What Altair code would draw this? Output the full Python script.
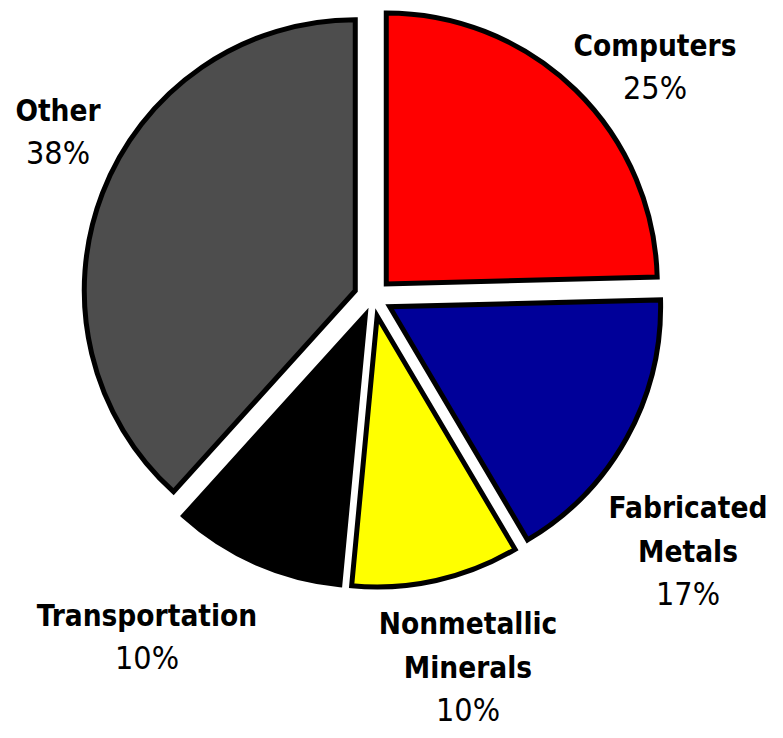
import altair as alt
import pandas as pd

# ---- data ----
categories = ["Computers", "Fabricated Metals", "Nonmetallic Minerals", "Transportation", "Other"]
name_lines = ["Computers", "Fabricated\nMetals", "Nonmetallic\nMinerals", "Transportation", "Other"]
shares = [24.6, 16.9, 10.0, 10.2, 38.3]
colors = ["#FF0000", "#000099", "#FFFF00", "#000000", "#4D4D4D"]

# ---- layout (pixels inside the plot area) ----
W, H = 767, 722
CX, CY = 365, 289.5      # pie centre
R = 271                  # pie radius
EXPLODE = 19             # explosion distance
FS_NAME = 29.5           # font size of category names
FS_PCT = 32              # font size of percentages
LH = 44                  # line height
FONT = "DejaVu Sans Condensed, Liberation Sans Narrow, Arial Narrow, Liberation Sans, sans-serif"
# label anchor offsets from pie centre (bottom of the percent line)
label_dx = [282, 315, 95, -226, -315]
label_dy = [-192, 314, 430, 378, -127]

df = pd.DataFrame({
    "category": categories,
    "name": name_lines,
    "share": shares,
    "order": list(range(len(categories))),
    "ldx": label_dx,
    "ldy": label_dy,
})
df["pct"] = [f"{v:.0f}%" for v in shares]
df["nlines"] = [n.count("\n") + 1 for n in name_lines]

base = alt.Chart(df).transform_joinaggregate(
    total="sum(share)"
).transform_window(
    cum="sum(share)", sort=[alt.SortField("order")], frame=[None, 0]
).transform_calculate(
    a0="(datum.cum - datum.share) / datum.total * 2 * PI",
    a1="datum.cum / datum.total * 2 * PI",
).transform_calculate(
    mid="(datum.a0 + datum.a1) / 2",
).transform_calculate(
    px=f"{CX} + {EXPLODE} * sin(datum.mid)",
    py=f"{CY} - {EXPLODE} * cos(datum.mid)",
    lx=f"{CX} + datum.ldx",
    ly=f"{CY} + datum.ldy",
    ly_name=f"{CY} + datum.ldy - {LH} * datum.nlines",
)

arcs = base.mark_arc(radius=R, stroke="black", strokeWidth=5, strokeJoin="miter").encode(
    x=alt.X("px:Q", scale=None),
    y=alt.Y("py:Q", scale=None),
    theta=alt.Theta("a0:Q", scale=None),
    theta2="a1:Q",
    color=alt.Color("category:N", scale=alt.Scale(domain=categories, range=colors), legend=None),
)

names = base.mark_text(
    font=FONT, fontSize=FS_NAME, fontWeight="bold",
    align="center", baseline="bottom", lineBreak="\n", lineHeight=LH, color="black",
).encode(
    x=alt.X("lx:Q", scale=None),
    y=alt.Y("ly_name:Q", scale=None),
    text="name:N",
)

pcts = base.mark_text(
    font=FONT, fontSize=FS_PCT, fontWeight="normal",
    align="center", baseline="bottom", color="black",
).encode(
    x=alt.X("lx:Q", scale=None),
    y=alt.Y("ly:Q", scale=None),
    text="pct:N",
)

chart = alt.layer(arcs, names, pcts).properties(
    width=W, height=H, padding=0, autosize=alt.AutoSizeParams(type="none")
).configure_view(stroke=None)

chart.save("out.html", embed_options={"renderer": "svg", "actions": False})
